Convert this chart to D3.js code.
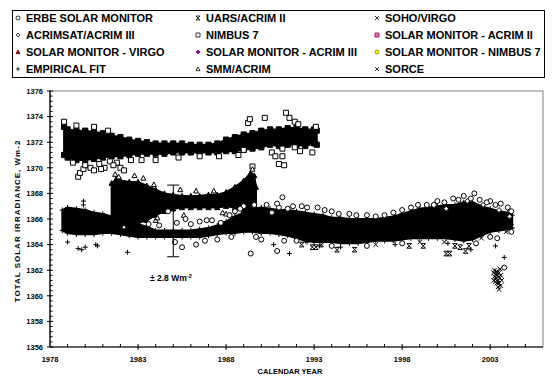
<!DOCTYPE html>
<html><head><meta charset="utf-8">
<script src="https://cdn.jsdelivr.net/npm/d3@7"></script>
<style>
body{margin:0;background:#fff}
text{font-family:"Liberation Sans",Arial,sans-serif;font-weight:bold;fill:#000}
</style>
</head><body><svg id="c" width="553" height="378"></svg>
<script>
// ---------------- DATA ----------------
const yearTicks = [1978, 1983, 1988, 1993, 1998, 2003];
const irradianceTicks = [1356, 1358, 1360, 1362, 1364, 1366, 1368, 1370, 1372, 1374, 1376];

const legendLabels = [
  "ERBE SOLAR MONITOR", "UARS/ACRIM II", "SOHO/VIRGO",
  "ACRIMSAT/ACRIM III", "NIMBUS 7", "SOLAR MONITOR - ACRIM II",
  "SOLAR MONITOR - VIRGO", "SOLAR MONITOR - ACRIM III", "SOLAR MONITOR - NIMBUS 7",
  "EMPIRICAL FIT", "SMM/ACRIM", "SORCE"
];

// NIMBUS 7 dense cloud envelope
const nimbusYears = [1978.8,1979.0,1979.5,1980.0,1980.5,1981.0,1981.5,1982.0,1982.5,1983.0,1983.5,1984.0,1984.5,1985.0,1985.5,1986.0,1986.5,1987.0,1987.5,1988.0,1988.5,1989.0,1989.5,1990.0,1990.5,1991.0,1991.5,1992.0,1992.5,1993.0,1993.15];
const nimbusLo    = [1371.0,1370.8,1370.6,1370.6,1370.7,1370.8,1370.9,1370.9,1371.0,1371.1,1371.1,1371.1,1371.1,1371.2,1371.2,1371.2,1371.2,1371.2,1371.2,1371.3,1371.3,1371.4,1371.5,1371.6,1371.8,1371.7,1371.8,1371.8,1371.7,1371.9,1371.8];
const nimbusHi    = [1373.2,1373.0,1372.9,1372.9,1372.8,1372.7,1372.5,1372.4,1372.2,1372.1,1372.0,1371.9,1371.9,1371.9,1371.9,1371.8,1371.8,1371.8,1371.9,1372.2,1372.4,1372.6,1372.7,1372.9,1373.0,1373.0,1373.1,1373.1,1373.0,1373.0,1372.9];
const nimbusPts = [[1978.8,1373.6],[1979.5,1373.3],[1980.5,1373.2],[1981.3,1372.9],[1979.6,1369.3],[1979.7,1369.6],[1979.9,1369.9],[1980.0,1370.2],[1980.3,1370.0],[1980.5,1369.8],[1980.8,1370.3],[1981.1,1370.0],[1981.4,1370.5],[1981.8,1370.4],[1982.0,1370.0],[1982.2,1369.8],[1979.3,1370.4],[1980.9,1369.9],[1981.6,1370.2],[1982.6,1370.6],[1983.2,1370.6],[1984.0,1370.6],[1985.3,1370.8],[1986.5,1370.9],[1987.6,1370.9],[1988.7,1371.0],[1989.0,1371.4],[1989.5,1370.1],[1989.25,1373.5],[1989.35,1373.8],[1990.2,1373.9],[1991.4,1374.3],[1991.6,1373.9],[1991.9,1373.6],[1992.1,1373.4],[1993.1,1373.2],[1990.6,1371.2],[1990.8,1370.9],[1991.0,1370.3],[1991.2,1371.5],[1991.2,1370.9],[1991.3,1370.2],[1991.9,1371.6],[1992.2,1371.3],[1992.9,1371.2]];

// SMM/ACRIM dense cloud envelope
const smmYears = [1981.5,1981.75,1982.0,1982.5,1983.0,1983.5,1984.0,1984.5,1985.0,1985.5,1986.0,1986.5,1987.0,1987.5,1988.0,1988.5,1989.0,1989.4,1989.6,1989.7];
const smmLo    = [1365.9,1365.7,1365.6,1365.6,1365.7,1365.9,1366.3,1366.6,1366.8,1366.9,1366.9,1366.9,1366.9,1366.9,1367.0,1366.9,1366.6,1366.3,1366.2,1366.6];
const smmHi    = [1368.8,1369.1,1369.0,1368.9,1368.9,1368.6,1368.3,1368.0,1367.9,1367.8,1367.8,1367.8,1367.9,1367.9,1368.1,1368.5,1369.0,1369.6,1369.4,1368.5];
const smmPts = [[1981.7,1369.5],[1981.9,1369.3],[1982.8,1369.4],[1983.3,1369.2],[1984.0,1365.9],[1984.1,1366.1],[1985.4,1368.3],[1986.3,1368.2],[1987.3,1368.2],[1987.8,1366.5],[1985.6,1366.3],[1988.0,1366.4],[1989.5,1369.9],[1982.2,1365.4],[1983.9,1368.7]];

// Lower cloud (empirical fit band)
const fitYears = [1978.7,1979.0,1979.5,1980.0,1980.5,1981.0,1981.5,1982.0,1982.5,1983.0,1983.5,1984.0,1984.5,1985.0,1985.5,1986.0,1986.5,1987.0,1987.5,1988.0,1988.5,1989.0,1989.5,1990.0,1990.5,1991.0,1991.5,1992.0,1992.5,1993.0,1993.5,1994.0,1994.5,1995.0,1995.5,1996.0,1996.5,1997.0,1997.5,1998.0,1998.5,1999.0,1999.5,2000.0,2000.5,2001.0,2001.5,2002.0,2002.5,2003.0,2003.5,2004.0,2004.25];
const fitLo    = [1365.1,1364.9,1364.8,1364.8,1364.8,1364.9,1364.9,1364.8,1364.7,1364.6,1364.6,1364.6,1364.6,1364.6,1364.6,1364.6,1364.6,1364.7,1364.8,1364.9,1364.9,1365.0,1365.0,1364.9,1364.9,1364.8,1364.7,1364.5,1364.3,1364.2,1364.2,1364.2,1364.1,1364.1,1364.1,1364.2,1364.3,1364.3,1364.3,1364.4,1364.5,1364.5,1364.5,1364.5,1364.5,1364.4,1364.3,1364.4,1364.7,1365.0,1365.1,1365.2,1365.3];
const fitHi    = [1366.7,1366.9,1366.8,1366.7,1366.5,1366.4,1366.2,1366.0,1365.8,1365.6,1365.4,1365.1,1365.1,1365.1,1365.1,1365.1,1365.2,1365.3,1365.5,1365.8,1366.2,1366.5,1366.8,1366.9,1366.8,1366.7,1366.7,1366.6,1366.5,1366.4,1366.3,1366.1,1366.1,1366.0,1366.0,1366.0,1366.0,1366.1,1366.2,1366.4,1366.6,1366.8,1366.9,1367.0,1367.1,1367.1,1367.3,1367.3,1367.0,1366.8,1366.6,1366.5,1366.3];
const fitPts = [[1979.6,1363.7],[1979.8,1363.6],[1980.0,1363.8],[1980.6,1364.0],[1980.7,1363.9],[1979.0,1364.2],[1982.4,1363.4],[1979.9,1367.4],[1979.9,1367.1],[1990.7,1364.0],[1991.6,1363.3],[1989.4,1363.3],[2003.3,1363.9],[2003.8,1363.0],[1992.6,1364.2],[1994.5,1363.8],[1993.3,1363.9],[1997.6,1364.0],[2000.6,1364.1],[2001.9,1363.6]];

const erbePts = [[1985.5,1363.8],[1986.3,1364.0],[1986.9,1365.9],[1987.7,1365.7],[1985.7,1366.0],[1984.7,1366.6],[1989.4,1363.3],[1990.9,1363.5],[1991.2,1367.7],[1990.6,1366.5],[1991.0,1366.9],[1991.5,1366.8],[1992.3,1367.0],[1993.2,1366.9],[1994.0,1366.6],[1995.0,1366.4],[1996.0,1366.3],[1997.5,1366.5],[1998.9,1367.1],[2000.0,1367.4],[2000.9,1367.6],[2001.5,1367.8],[2002.1,1368.0],[2003.0,1367.4],[2003.6,1367.2],[2004.0,1366.9],[2004.2,1366.6],[2003.4,1364.5],[2003.8,1362.2],[1988.5,1366.6],[1989.0,1367.0],[1990.0,1364.4],[1992.0,1364.3],[1983.6,1365.6],[1984.2,1365.5],[1985.1,1364.2],[1985.2,1365.7],[1986.0,1365.6],[1986.5,1365.8],[1987.2,1365.9],[1988.2,1366.3],[1988.8,1366.8],[1989.6,1367.1],[1990.3,1367.1],[1990.9,1367.2],[1991.8,1367.0],[1992.6,1366.9],[1993.6,1366.7],[1994.4,1366.4],[1995.4,1366.3],[1996.5,1366.2],[1997.0,1366.3],[1998.0,1366.7],[1998.5,1366.9],[1999.4,1367.1],[1999.8,1367.1],[2000.4,1367.3],[2001.2,1367.5],[2001.9,1367.6],[2002.4,1367.5],[2002.8,1367.3],[2003.3,1367.1],[1986.8,1364.3],[1987.5,1364.4],[1988.3,1364.6],[1989.7,1364.6],[1991.3,1364.3],[1994.0,1363.9],[1996.0,1363.9],[1998.0,1364.1],[2002.2,1364.1],[2003.0,1364.6],[2004.2,1365.0]];
const uarsPts = [[1992.3,1364.0],[1992.9,1363.8],[1993.1,1363.8],[1993.4,1364.0],[1994.3,1363.6],[1995.3,1363.6],[1998.4,1363.9],[1999.2,1363.9],[2000.5,1363.3],[2000.7,1363.3],[2001.0,1363.9],[2001.3,1363.8],[2001.6,1363.5],[2001.8,1363.9]];
const sohoPts = [[1996.5,1364.0],[1999.0,1364.2],[2000.4,1364.2],[2002.5,1364.5],[2003.9,1365.0],[2004.2,1365.4]];
const acrimsatPts = [[2000.5,1366.8],[2001.7,1367.4],[2002.6,1367.1],[2003.5,1366.7],[2004.1,1366.2]];
const sorcePts = [[2003.2,1361.8],[2003.25,1361.5],[2003.3,1361.3],[2003.35,1361.9],[2003.4,1361.6],[2003.45,1361.2],[2003.5,1361.0],[2003.55,1361.4],[2003.6,1360.8],[2003.5,1360.5],[2003.4,1361.0],[2003.3,1361.7],[2003.25,1362.0],[2003.55,1362.1],[2003.6,1361.6],[2003.45,1360.7],[2003.35,1361.4],[2003.2,1361.2],[2003.5,1361.8],[2003.65,1361.2],[2003.3,1361.1],[2003.4,1361.8]];
const smAcrim2Pts = [[1995.0,1365.0]];
const smVirgoPts = [[1999.0,1365.5]];
const smAcrim3Pts = [[2002.0,1365.8]];
const smNimbusPts = [[1981.0,1365.6]];

const errorBarYear = 1985.0, errorBarCenter = 1365.85, errorBarHalf = 2.8;

// ---------------- DRAWING ----------------
const svg = d3.select("#c");
const x = d3.scaleLinear().domain([1978, 2006]).range([50, 543]);
const y = d3.scaleLinear().domain([1356, 1376]).range([347, 91]);

function sym(type, r) {
  switch (type) {
    case "circle": return `M${r},0A${r},${r},0,1,1,${-r},0A${r},${r},0,1,1,${r},0Z`;
    case "square": return `M${-r},${-r}h${2*r}v${2*r}h${-2*r}Z`;
    case "triangle": return `M0,${-r}L${r},${r*0.85}L${-r},${r*0.85}Z`;
    case "diamond": return `M0,${-r}L${r},0L0,${r}L${-r},0Z`;
    case "plus": return `M${-r},0H${r}M0,${-r}V${r}`;
    case "cross": return `M${-r},${-r}L${r},${r}M${r},${-r}L${-r},${r}`;
    case "hourglass": return `M${-r},${-r}H${r}L${-r},${r}H${r}Z`;
  }
}
const styles = {
  erbe:{s:"circle",f:"#fff",k:"#000"}, uars:{s:"hourglass",f:"none",k:"#000"}, soho:{s:"cross",f:"none",k:"#000"},
  acrimsat:{s:"diamond",f:"#fff",k:"#000"}, nimbus:{s:"square",f:"#fff",k:"#000"}, smAcrim2:{s:"square",f:"#ff66cc",k:"#800040"},
  smVirgo:{s:"triangle",f:"#800000",k:"#800000"}, smAcrim3:{s:"diamond",f:"#990099",k:"#990099"}, smNimbus:{s:"circle",f:"#ffff00",k:"#808000"},
  fit:{s:"plus",f:"none",k:"#000"}, smm:{s:"triangle",f:"#fff",k:"#000"}, sorce:{s:"cross",f:"none",k:"#000"}
};
const legendKeys = ["erbe","uars","soho","acrimsat","nimbus","smAcrim2","smVirgo","smAcrim3","smNimbus","fit","smm","sorce"];

// plot frame (top/right grey)
svg.append("rect").attr("x",50).attr("y",91).attr("width",493).attr("height",256)
  .attr("fill","none").attr("stroke","#808080").attr("stroke-width",1);

const plot = svg.append("g");
function drawPts(pts, key, r, fillOverride) {
  const st = styles[key];
  plot.append("g").selectAll("path").data(pts).join("path")
    .attr("transform", d => `translate(${x(d[0])},${y(d[1])})`)
    .attr("d", sym(st.s, r)).attr("fill", fillOverride || st.f).attr("stroke", st.k).attr("stroke-width", 1);
}
function drawCloud(years, lo, hi, key) {
  const data = years.map((yr,i)=>({yr, lo:lo[i], hi:hi[i]}));
  const area = d3.area().x(d=>x(d.yr)).y0(d=>y(d.lo)).y1(d=>y(d.hi));
  plot.append("path").datum(data).attr("d", area).attr("fill","#000").attr("stroke","#000").attr("stroke-width",2);
  drawPts(data.map(d=>[d.yr,d.lo]), key, 2.6, "#000");
  drawPts(data.map(d=>[d.yr,d.hi]), key, 2.6, "#000");
}
drawPts(smNimbusPts,"smNimbus",2.5);
drawPts(smAcrim2Pts,"smAcrim2",2.5);
drawPts(smVirgoPts,"smVirgo",2.5);
drawPts(smAcrim3Pts,"smAcrim3",2.5);
drawCloud(fitYears, fitLo, fitHi, "fit");
drawCloud(nimbusYears, nimbusLo, nimbusHi, "nimbus");
drawCloud(smmYears, smmLo, smmHi, "smm");
drawPts(nimbusPts,"nimbus",2.5);
drawPts(smmPts,"smm",2.5);
drawPts(fitPts,"fit",2.5);
drawPts(erbePts,"erbe",2.5);
drawPts(uarsPts,"uars",2.3);
drawPts(sohoPts,"soho",2.3);
drawPts(acrimsatPts,"acrimsat",2.5);
drawPts(sorcePts,"sorce",2.3);

// error bar annotation
const eb = svg.append("g").attr("stroke","#000").attr("stroke-width",1);
const ex = x(errorBarYear);
eb.append("line").attr("x1",ex).attr("x2",ex).attr("y1",y(errorBarCenter+errorBarHalf)).attr("y2",y(errorBarCenter-errorBarHalf));
[errorBarCenter+errorBarHalf, errorBarCenter-errorBarHalf].forEach(v=>
  eb.append("line").attr("x1",ex-6).attr("x2",ex+6).attr("y1",y(v)).attr("y2",y(v)));
const lab = svg.append("text").attr("x",150).attr("y",281).attr("font-size",8.5);
lab.append("tspan").text("± 2.8 Wm");
lab.append("tspan").attr("dy",-3.5).attr("font-size",5.5).text("-2");

// axes
const xAxis = svg.append("g");
xAxis.append("line").attr("x1",50).attr("x2",543).attr("y1",347).attr("y2",347).attr("stroke","#000").attr("stroke-width",1.2);
d3.range(1979, 2006).forEach(yr => {
  const major = yearTicks.includes(yr);
  xAxis.append("line").attr("x1",x(yr)).attr("x2",x(yr)).attr("y1",major?350:347).attr("y2",344).attr("stroke","#000").attr("stroke-width",1);
});
xAxis.selectAll("text").data(yearTicks).join("text")
  .attr("x",d=>x(d)).attr("y",362).attr("text-anchor","middle").attr("font-size",7.5).text(d=>d);

const yAxis = svg.append("g");
yAxis.append("line").attr("x1",50).attr("x2",50).attr("y1",91).attr("y2",347).attr("stroke","#000").attr("stroke-width",1.2);
d3.range(0, 51).forEach(i => {
  const v = 1356 + i*0.4;
  const major = i % 5 === 0;
  yAxis.append("line").attr("x1",major?47:50).attr("x2",major?53:52.5).attr("y1",y(v)).attr("y2",y(v)).attr("stroke","#000").attr("stroke-width",1);
});
yAxis.selectAll("text").data(irradianceTicks).join("text")
  .attr("x",43).attr("y",d=>y(d)+2.7).attr("text-anchor","end").attr("font-size",7.5).text(d=>d);

svg.append("text").attr("x",290).attr("y",374).attr("text-anchor","middle").attr("font-size",7.5).text("CALENDAR YEAR");
svg.append("text").attr("transform","translate(20,221) rotate(-90)").attr("text-anchor","middle")
  .attr("font-size",8).attr("letter-spacing",1).text("TOTAL SOLAR IRRADIANCE, Wm-2");

// legend
const lg = svg.append("g");
lg.append("rect").attr("x",12.5).attr("y",10.5).attr("width",532).attr("height",67).attr("fill","#fff").attr("stroke","#000").attr("stroke-width",1);
const colX = [18, 198, 377];
legendLabels.forEach((t,i)=>{
  const cx = colX[i%3], cy = 18 + 17*Math.floor(i/3);
  const st = styles[legendKeys[i]];
  lg.append("path").attr("transform",`translate(${cx},${cy})`).attr("d",sym(st.s,2))
    .attr("fill",st.f).attr("stroke",st.k).attr("stroke-width",0.8);
  lg.append("text").attr("x",cx+8).attr("y",cy+4).attr("font-size",11).text(t);
});
</script></body></html>
